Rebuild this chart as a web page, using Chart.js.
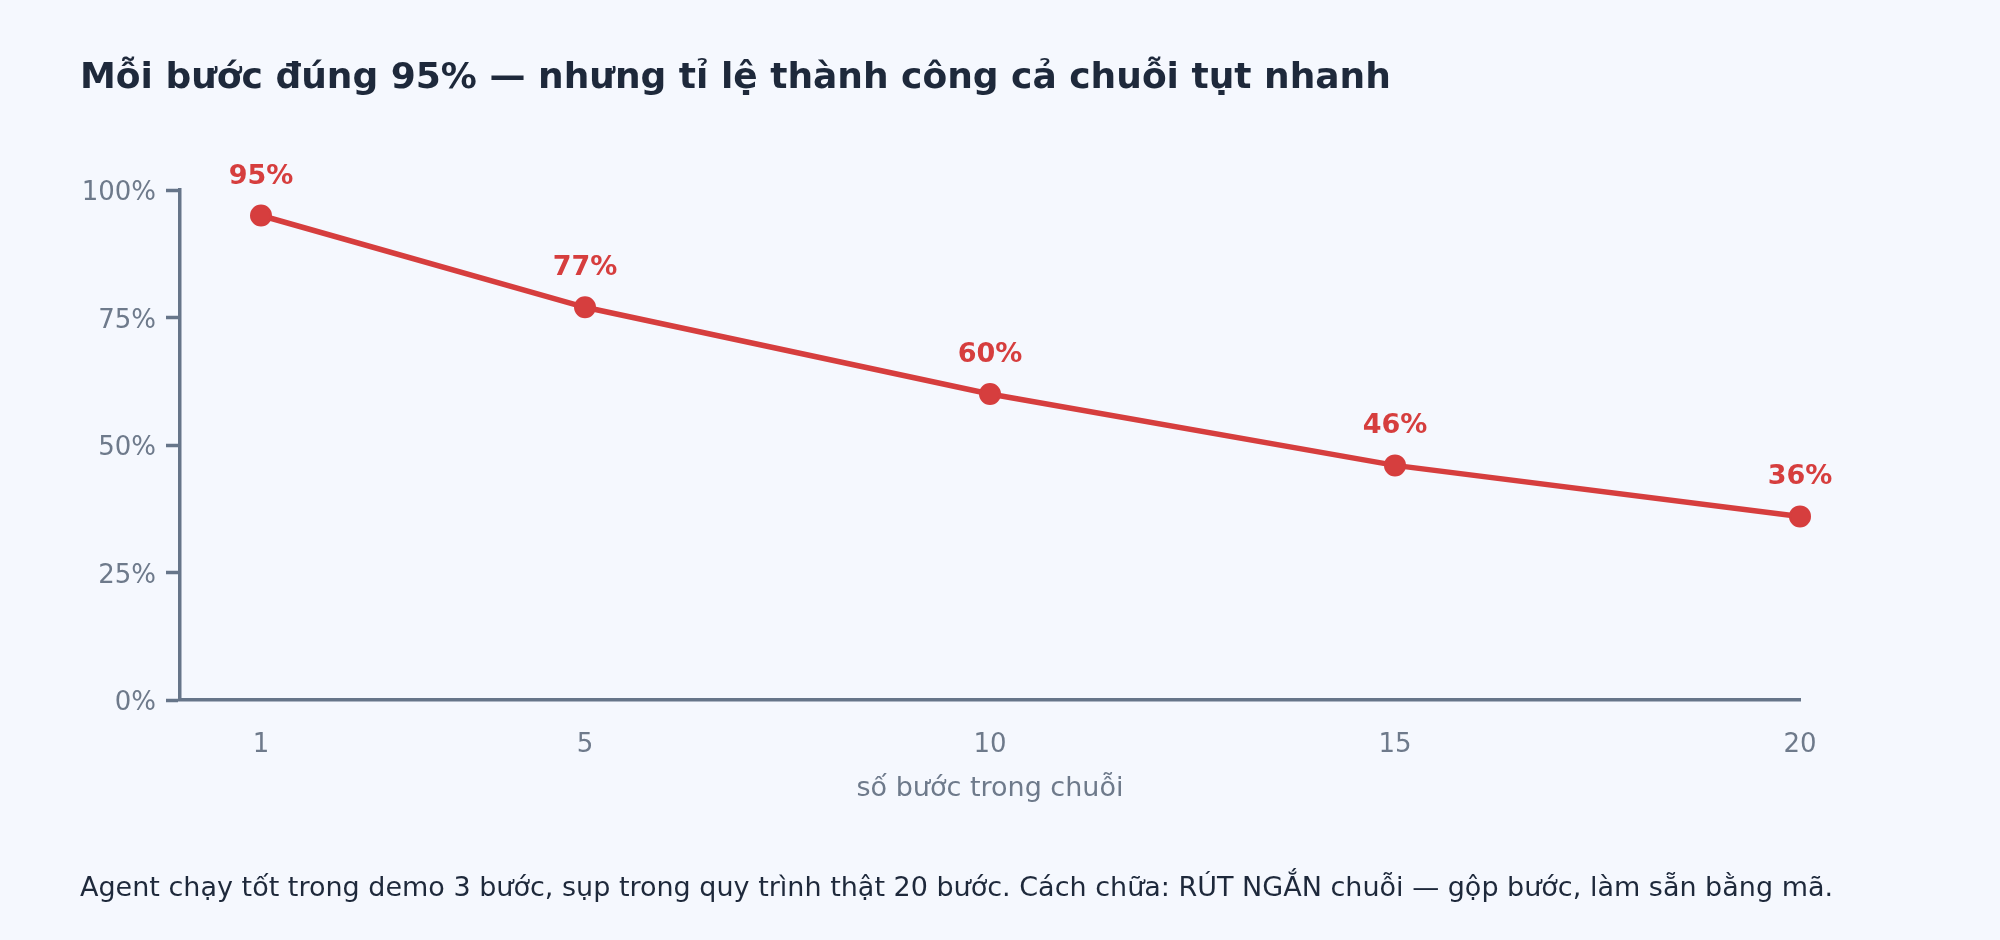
<!DOCTYPE html>
<html>
<head>
<meta charset="utf-8">
<script src="https://cdn.jsdelivr.net/npm/chart.js@4.4.1/dist/chart.umd.min.js"></script>
<style>
  html, body { margin: 0; padding: 0; background: #f5f8fe; }
  #wrap { width: 2000px; height: 940px; position: relative; }
  canvas { display: block; }
</style>
</head>
<body>
<div id="wrap"><canvas id="c" width="2000" height="940"></canvas></div>
<script>
// ---- data ----
const titleText = "Mỗi bước đúng 95% — nhưng tỉ lệ thành công cả chuỗi tụt nhanh";
const footnoteText = "Agent chạy tốt trong demo 3 bước, sụp trong quy trình thật 20 bước. Cách chữa: RÚT NGẮN chuỗi — gộp bước, làm sẵn bằng mã.";
const xAxisTitle = "số bước trong chuỗi";
const steps = [1, 5, 10, 15, 20];
const successRate = [95, 77, 60, 46, 36];
const xTickValues = [1, 5, 10, 15, 20];
const yTickValues = [0, 25, 50, 75, 100];

// ---- style ----
const RED = '#d63e3e';
const AXIS = '#667589';
const TICK_TEXT = '#6e7a8b';
const DARK = '#1e293b';
const FONT = "'DejaVu Sans', sans-serif";

Chart.defaults.font.family = FONT;

const pointLabels = {
  id: 'pointLabels',
  afterDatasetsDraw(chart) {
    const ctx = chart.ctx;
    const meta = chart.getDatasetMeta(0);
    ctx.save();
    ctx.font = "bold 27px " + FONT;
    ctx.fillStyle = RED;
    ctx.textAlign = 'center';
    ctx.textBaseline = 'alphabetic';
    meta.data.forEach((pt, i) => {
      ctx.fillText(successRate[i] + '%', pt.x, pt.y - 32);
    });
    ctx.restore();
  }
};

const headerFooter = {
  id: 'headerFooter',
  afterDraw(chart) {
    const ctx = chart.ctx;
    ctx.save();
    ctx.textAlign = 'left';
    ctx.textBaseline = 'alphabetic';
    ctx.fillStyle = DARK;
    ctx.font = "bold 36px " + FONT;
    ctx.fillText(titleText, 80, 88.3);
    ctx.font = "27px " + FONT;
    ctx.fillText(footnoteText, 80, 895.7);
    ctx.restore();
  }
};

new Chart(document.getElementById('c'), {
  type: 'line',
  data: {
    datasets: [{
      data: steps.map((s, i) => ({ x: s, y: successRate[i] })),
      borderColor: RED,
      backgroundColor: RED,
      borderWidth: 5.5,
      pointRadius: 10,
      pointBorderWidth: 2,
      pointBackgroundColor: RED,
      pointBorderColor: RED,
      tension: 0,
      clip: false
    }]
  },
  options: {
    responsive: false,
    animation: false,
    devicePixelRatio: 1,
    layout: { padding: { left: 80, right: 200, top: 190, bottom: 0 } },
    plugins: {
      legend: { display: false },
      tooltip: { enabled: false },
      title: { display: false },
      subtitle: { display: false }
    },
    scales: {
      x: {
        type: 'linear',
        min: 0,
        max: 20,
        afterBuildTicks: (scale) => { scale.ticks = xTickValues.map(v => ({ value: v })); },
        afterFit: (scale) => { scale.height = 240; },
        grid: { display: true, drawOnChartArea: false, drawTicks: false },
        border: { display: true, color: AXIS, width: 3.5 },
        ticks: { color: TICK_TEXT, font: { size: 26, family: FONT }, padding: 30, autoSkip: false, maxRotation: 0 },
        title: {
          display: true,
          text: xAxisTitle,
          color: TICK_TEXT,
          font: { size: 27, family: FONT, lineHeight: 1.2 },
          padding: { top: 0, bottom: 134.8 }
        }
      },
      y: {
        min: 0,
        max: 100,
        afterBuildTicks: (scale) => { scale.ticks = yTickValues.map(v => ({ value: v })); },
        afterFit: (scale) => { scale.width = 100; },
        grid: { display: true, drawOnChartArea: false, drawTicks: true, tickLength: 14, tickColor: AXIS, tickWidth: 3.5 },
        border: { display: true, color: AXIS, width: 3.5 },
        ticks: { color: TICK_TEXT, font: { size: 26, family: FONT }, padding: 10, labelOffset: 3.5, callback: (v) => v + '%' }
      }
    }
  },
  plugins: [pointLabels, headerFooter]
});
</script>
</body>
</html>
